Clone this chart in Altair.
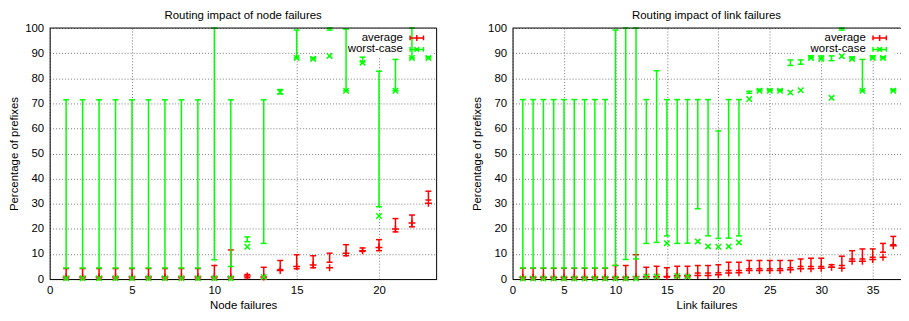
import altair as alt
import pandas as pd

FONT = "Liberation Sans"
RED = "#ff0000"
GREEN = "#00ff00"

# ---------------- Node failures panel ----------------
node_x = list(range(1, 24))
node_avg = [0.8, 0.8, 0.8, 0.8, 0.8, 0.8, 0.8, 0.8, 0.8, 0.8, 0.8, 1.2, 0.8,
            3.4, 5.0, 5.6, 4.5, 10.3, 11.3, 12.6, 19.9, 22.3, 30.2]
node_avg_lo = [0, 0, 0, 0, 0, 0, 0, 0, 0, 0, 0, 0.5, 0,
               3.8, 4.1, 4.5, 6.7, 9.3, 11.0, 11.3, 18.8, 20.8, 31.5]
node_avg_hi = [4.2, 4.2, 4.2, 4.2, 4.2, 4.2, 4.2, 4.2, 4.2, 5.4, 11.6, 1.8, 4.7,
               7.4, 9.7, 9.3, 10.3, 13.7, 12.4, 15.7, 24.1, 25.5, 35.0]
node_wc = [0.3, 0.3, 0.3, 0.3, 0.3, 0.3, 0.3, 0.3, 0.3, 0.3, 0.3, 12.9, 0.8,
           74.5, 88.1, 87.7, 88.9, 75.0, 86.2, 25.1, 75.0, 88.1, 88.1]
node_wc_lo = [4.4, 4.4, 4.4, 4.4, 4.4, 4.4, 4.4, 4.4, 4.4, 7.7, 5.0, 14.9, 14.2,
              73.8, 88.1, 87.7, 99.2, 75.0, 86.5, 28.8, 75.0, 88.1, 88.1]
node_wc_hi = [71.4, 71.4, 71.4, 71.4, 71.4, 71.4, 71.4, 71.4, 71.4, 100, 71.4, 16.8, 71.4,
              75.5, 99.2, 88.3, 100, 99.6, 88.4, 82.8, 87.5, 100, 88.6]

# ---------------- Link failures panel ----------------
link_x = list(range(1, 38))
link_avg = [0.7, 0.7, 0.7, 0.7, 0.7, 0.7, 0.7, 0.7, 0.7, 0.7, 0.7, 0.9,
            1.0, 1.0, 1.0, 1.3, 1.3, 1.4, 1.4, 1.7, 2.4, 2.5, 3.4, 3.4, 3.4,
            3.4, 3.7, 4.1, 4.1, 4.3, 4.7, 4.3, 7.1, 7.1, 7.8, 8.7, 13.3]
link_avg_lo = [0, 0, 0, 0, 0, 0, 0, 0, 0, 0, 0, 0,
               0.8, 0.8, 0.8, 0.8, 0.8, 2.4, 2.4, 2.5, 3.4, 3.4, 4.1, 4.1, 4.1,
               4.1, 4.5, 5.0, 5.0, 5.0, 4.7, 5.4, 8.0, 8.0, 8.7, 10.7, 13.7]
link_avg_hi = [4.3, 4.3, 4.3, 4.3, 4.3, 4.3, 4.3, 4.3, 4.3, 5.4, 5.4, 9.7,
               4.7, 5.1, 4.5, 5.1, 5.1, 5.4, 5.4, 5.7, 6.7, 6.7, 7.4, 7.4, 7.4,
               7.4, 7.4, 8.0, 8.3, 8.3, 5.7, 9.1, 11.3, 12.0, 12.0, 14.2, 17.0]
link_wc = [0.2, 0.2, 0.2, 0.2, 0.2, 0.2, 0.2, 0.2, 0.2, 0.2, 0.2, 0.2,
           1.0, 1.0, 14.3, 1.2, 1.0, 15.0, 13.0, 12.9, 13.0, 14.6, 71.7, 75.0, 75.0,
           75.0, 74.3, 75.2, 88.1, 87.7, 72.2, 88.8, 87.7, 75.0, 88.1, 88.1, 75.0]
link_wc_lo = [4.4, 4.4, 4.4, 4.4, 4.4, 4.4, 4.4, 4.4, 4.4, 5.4, 7.8, 8.0,
              14.2, 14.6, 17.2, 14.2, 14.3, 28.0, 17.2, 16.2, 16.3, 17.2, 74.0, 75.0, 75.0,
              75.0, 85.1, 85.6, 88.1, 87.7, 87.0, 99.2, 87.7, 75.0, 88.1, 88.1, 75.0]
link_wc_hi = [71.5, 71.5, 71.5, 71.5, 71.5, 71.5, 71.5, 71.5, 71.5, 99.2, 100, 100,
              71.5, 83.0, 71.5, 71.5, 71.5, 71.5, 71.5, 59.0, 71.5, 71.5, 74.8, 75.6, 75.6,
              75.5, 87.3, 87.3, 88.9, 88.9, 88.9, 100, 88.5, 87.5, 88.9, 88.5, 75.6]

y_ticks = [0, 10, 20, 30, 40, 50, 60, 70, 80, 90, 100]
node_ticks = [0, 5, 10, 15, 20]
link_ticks = [0, 5, 10, 15, 20, 25, 30, 35]
legend_labels = ["average", "worst-case"]

PLUS = "M-1,0L1,0M0,-1L0,1"
CROSS = "M-1,-1L1,1M-1,1L1,-1"
CAP = "M-1,0L1,0"
LEG_RED = "M-1,0L1,0M-1,-0.35L-1,0.35M1,-0.35L1,0.35M0,-0.45L0,0.45"
LEG_GREEN = "M-1,0L1,0M-1,-0.35L-1,0.35M1,-0.35L1,0.35M-0.35,-0.35L0.35,0.35M-0.35,0.35L0.35,-0.35"

H = 253


def panel(xs, avg, alo, ahi, wc, wlo, whi, xmax, width, xticks, xtitle, title, right_border):
    df = pd.DataFrame({"x": xs, "avg": avg, "avg_lo": alo, "avg_hi": ahi,
                       "wc": wc, "wc_lo": wlo, "wc_hi": whi})
    xscale = alt.Scale(domain=[0, xmax], nice=False, zero=False)
    yscale = alt.Scale(domain=[0, 100], nice=False, zero=False)
    xaxis = alt.Axis(values=xticks, title=xtitle, grid=True, ticks=False, tickSize=0,
                     labelPadding=6, titlePadding=3, labelFlush=False, labelOverlap=False,
                     domain=True, domainColor="black", domainWidth=1)
    yaxis = alt.Axis(values=y_ticks, title="Percentage of prefixes", grid=True, ticks=False,
                     tickSize=0, labelPadding=6, titlePadding=5.5, labelFlush=False,
                     labelOverlap=False, domain=True, domainColor="black", domainWidth=1)
    X = alt.X("x:Q", scale=xscale, axis=xaxis)

    def Y(f):
        return alt.Y(f + ":Q", scale=yscale, axis=yaxis)

    bdf = pd.DataFrame({"k": [0]})
    layers = []
    # opaque key area (hides the grid behind the key text, as in the original)
    layers.append(alt.Chart(bdf).mark_rect(color="white").encode(
        x=alt.value(284), x2=alt.value(385), y=alt.value(0.5), y2=alt.value(30)))

    base = alt.Chart(df)
    for col, v, lo, hi, shape, sz in [(RED, "avg", "avg_lo", "avg_hi", PLUS, 49),
                                       (GREEN, "wc", "wc_lo", "wc_hi", CROSS, 30)]:
        layers.append(base.mark_rule(color=col, strokeWidth=1.5).encode(
            x=X, y=Y(lo), y2=alt.Y2(hi)))
        for f in (lo, hi):
            layers.append(base.mark_point(shape=CAP, size=36, filled=False, color=col,
                                          strokeWidth=1.5, opacity=1).encode(x=X, y=Y(f)))
        layers.append(base.mark_point(shape=shape, size=sz, filled=False, color=col,
                                      strokeWidth=1.5, opacity=1).encode(x=X, y=Y(v)))

    # key
    for i, (lab, col, shp) in enumerate(zip(legend_labels, [RED, GREEN], [LEG_RED, LEG_GREEN])):
        ldf = pd.DataFrame({"label": [lab]})
        yy = 10 + 11.6 * i
        layers.append(alt.Chart(ldf).mark_text(align="right", baseline="middle", font=FONT,
                                               fontSize=11.5, color="black").encode(
            text="label:N", x=alt.value(356), y=alt.value(yy)))
        layers.append(alt.Chart(ldf).mark_point(shape=shp, size=182, filled=False, color=col,
                                                strokeWidth=1.5, opacity=1).encode(
            x=alt.value(370), y=alt.value(yy)))

    layers.append(alt.Chart(bdf).mark_rule(color="black", strokeWidth=1).encode(
        y=alt.value(0), x=alt.value(0), x2=alt.value(width)))
    if right_border:
        layers.append(alt.Chart(bdf).mark_rule(color="black", strokeWidth=1).encode(
            x=alt.value(width), y=alt.value(0), y2=alt.value(H)))

    return alt.layer(*layers).properties(
        width=width, height=H,
        title=alt.TitleParams(title, font=FONT, fontSize=11.5, fontWeight="normal",
                              color="black", anchor="middle", offset=1),
        view=alt.ViewBackground(stroke=None),
    )


left = panel(node_x, node_avg, node_avg_lo, node_avg_hi, node_wc, node_wc_lo, node_wc_hi,
             23.5, 390, node_ticks, "Node failures", "Routing impact of node failures", True)
right = panel(link_x, link_avg, link_avg_lo, link_avg_hi, link_wc, link_wc_lo, link_wc_hi,
              37.7, 391, link_ticks, "Link failures", "Routing impact of link failures", False)

chart = alt.hconcat(left, right, spacing=33.5).properties(
    padding={"left": 0, "top": 0, "right": 0, "bottom": 0}
).configure_axis(
    labelFont=FONT, titleFont=FONT, labelFontSize=11.5, titleFontSize=11.5,
    titleFontWeight="normal", labelColor="black", titleColor="black",
    gridColor="#7a7a7a", gridDash=[1, 2], gridWidth=1,
).configure_view(stroke=None)

chart.save("out.html", embed_options={"renderer": "svg", "actions": False})
